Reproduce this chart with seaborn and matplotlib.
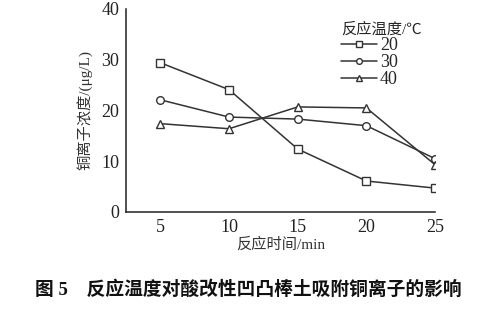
import matplotlib
matplotlib.use("Agg")
import matplotlib.pyplot as plt
import seaborn as sns
import pandas as pd

times = [5, 10, 15, 20, 25]
temps = ["20", "30", "40"]
conc_20 = [29.4, 24.1, 12.4, 6.1, 4.7]
conc_30 = [22.1, 18.7, 18.3, 17.0, 10.5]
conc_40 = [17.4, 16.4, 20.7, 20.5, 9.3]
markers = ["s", "o", "^"]

sns.set_theme(style="white")
plt.rcParams["font.family"] = ["Liberation Serif", "Noto Sans CJK SC", "DejaVu Sans"]
plt.rcParams["axes.unicode_minus"] = False

fig = plt.figure(figsize=(4.97, 3.09), dpi=100)
ax = fig.add_axes([0.2535, 0.314, 0.622, 0.657])

for t, vals, m in zip(temps, [conc_20, conc_30, conc_40], markers):
    df = pd.DataFrame({"time": times, "conc": vals})
    sns.lineplot(data=df, x="time", y="conc", ax=ax, color="#333333", lw=1.1,
                 marker=m, markersize=5.5, markerfacecolor="white",
                 markeredgecolor="#333333", markeredgewidth=1.0, label=t)

ax.set_xlim(2.5, 25)
ax.set_ylim(0, 40)
ax.set_xticks(times)
ax.set_yticks([0, 10, 20, 30, 40])
for s in ["top", "right"]:
    ax.spines[s].set_visible(False)
for s in ["left", "bottom"]:
    ax.spines[s].set_color("#222222")
    ax.spines[s].set_linewidth(1.1)
ax.tick_params(direction="in", length=4, width=1, colors="#222222", labelsize=13, pad=5)
ax.set_xlabel("反应时间/min", fontsize=11, color="#333333", labelpad=1)
ax.set_ylabel("铜离子浓度/(μg/L)", fontsize=11, color="#333333", labelpad=6)

leg = ax.legend(title="反应温度/℃", frameon=False, fontsize=13, title_fontsize=11,
                loc="upper left", bbox_to_anchor=(0.655, 0.995), handlelength=2.0,
                handletextpad=0.15, labelspacing=0.0, borderpad=0.2, markerscale=0.75)
leg._legend_box.align = "left"

fig.text(0.5, 0.045, "图 5　反应温度对酸改性凹凸棒土吸附铜离子的影响", ha="center",
         fontsize=13.5, fontweight="bold", color="#111111")

fig.savefig("out.png", dpi=100, facecolor="white")
